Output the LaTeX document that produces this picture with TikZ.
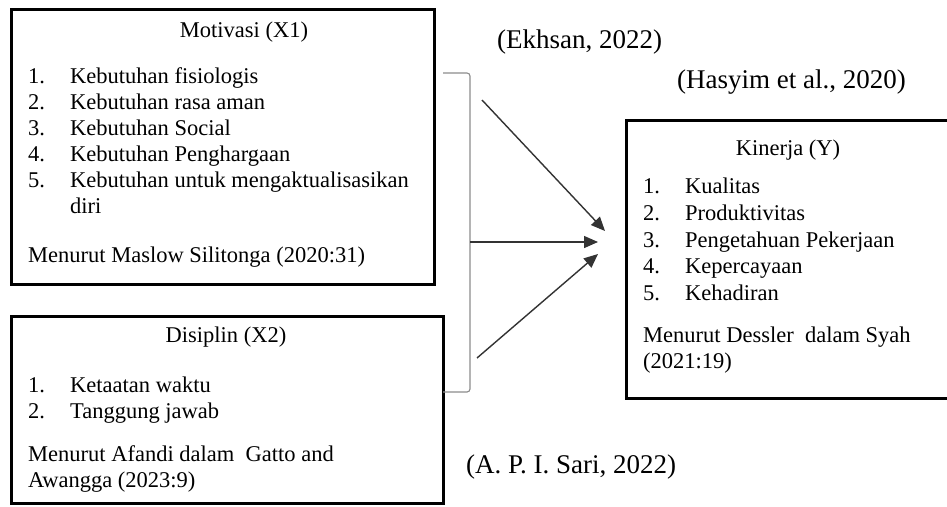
\documentclass[tikz,border=0pt]{standalone}
\usepackage{fontspec}
\setmainfont{Liberation Serif}
\usetikzlibrary{arrows.meta}
\begin{document}
\begin{tikzpicture}[x=1pt,y=-1pt,
  box/.style={draw=black, line width=2.8pt, inner sep=0pt, anchor=north west},
  txt/.style={inner sep=0pt, anchor=base west, font=\fontsize{22.5}{26.25}\selectfont, text=black},
  ttl/.style={inner sep=0pt, anchor=base, font=\fontsize{22.5}{26.25}\selectfont, text=black},
  cite/.style={inner sep=0pt, anchor=base west, font=\fontsize{27}{31}\selectfont, text=black},
  brk/.style={draw=black!45, line width=1.1pt, rounded corners=3pt},
  arr/.style={draw=black!80, line width=1.4pt, -{Triangle[length=14pt,width=12pt]}}]
\useasboundingbox (0,0) rectangle (947,506);
\clip (0,0) rectangle (947,506);
\fill[white] (0,0) rectangle (947,506);
% boxes
\node[box, minimum width=423pt, minimum height=275pt] (mot) at (10,8) {};
\node[box, minimum width=432pt, minimum height=187pt] (dis) at (10,315) {};
\node[box, minimum width=340pt, minimum height=278pt] (kin) at (625,119) {};
% Motivasi
\node[ttl] (motT) at (244,37) {Motivasi (X1)};
\node[txt] (m1n) at (28,83) {1.};  \node[txt] (m1) at (70,83) {Kebutuhan fisiologis};
\node[txt] (m2n) at (28,109) {2.}; \node[txt] (m2) at (70,109) {Kebutuhan rasa aman};
\node[txt] (m3n) at (28,135) {3.}; \node[txt] (m3) at (70,135) {Kebutuhan Social};
\node[txt] (m4n) at (28,161) {4.}; \node[txt] (m4) at (70,161) {Kebutuhan Penghargaan};
\node[txt] (m5n) at (28,187) {5.}; \node[txt] (m5) at (70,187) {Kebutuhan untuk mengaktualisasikan};
\node[txt] (m6) at (70,213) {diri};
\node[txt] (mref) at (28,262) {Menurut Maslow Silitonga (2020:31)};
% Disiplin
\node[ttl] (disT) at (226,342) {Disiplin (X2)};
\node[txt] (d1n) at (28,392) {1.}; \node[txt] (d1) at (70,392) {Ketaatan waktu};
\node[txt] (d2n) at (28,418) {2.}; \node[txt] (d2) at (70,418) {Tanggung jawab};
\node[txt] (dref1) at (28,461) {Menurut Afandi dalam\ \ Gatto and};
\node[txt] (dref2) at (28,487) {Awangga (2023:9)};
% Kinerja
\node[ttl] (kinT) at (788,155) {Kinerja (Y)};
\node[txt] (k1n) at (643,193) {1.}; \node[txt] (k1) at (685,193) {Kualitas};
\node[txt] (k2n) at (643,220) {2.}; \node[txt] (k2) at (685,220) {Produktivitas};
\node[txt] (k3n) at (643,247) {3.}; \node[txt] (k3) at (685,247) {Pengetahuan Pekerjaan};
\node[txt] (k4n) at (643,273) {4.}; \node[txt] (k4) at (685,273) {Kepercayaan};
\node[txt] (k5n) at (643,300) {5.}; \node[txt] (k5) at (685,300) {Kehadiran};
\node[txt] (kref1) at (643,342) {Menurut Dessler\ \ dalam Syah};
\node[txt] (kref2) at (643,368) {(2021:19)};
% citations
\node[cite] (c1) at (497,48) {(Ekhsan, 2022)};
\node[cite] (c2) at (677,88) {(Hasyim et al., 2020)};
\node[cite] (c3) at (466,473) {(A. P. I. Sari, 2022)};
% bracket
\coordinate (bt) at (443,73);
\coordinate (bb) at (443,392);
\coordinate (bm) at (470,242);
\draw[brk] (bt) -- (470,73) -- (470,392) -- (bb);
% arrows
\coordinate (a1s) at (482,100);
\coordinate (a1e) at (605,231);
\coordinate (a2e) at (598,242);
\coordinate (a3s) at (477,358);
\coordinate (a3e) at (598,254);
\draw[arr] (a1s) -- (a1e);
\draw[arr] (bm) -- (a2e);
\draw[arr] (a3s) -- (a3e);
\end{tikzpicture}
\end{document}
